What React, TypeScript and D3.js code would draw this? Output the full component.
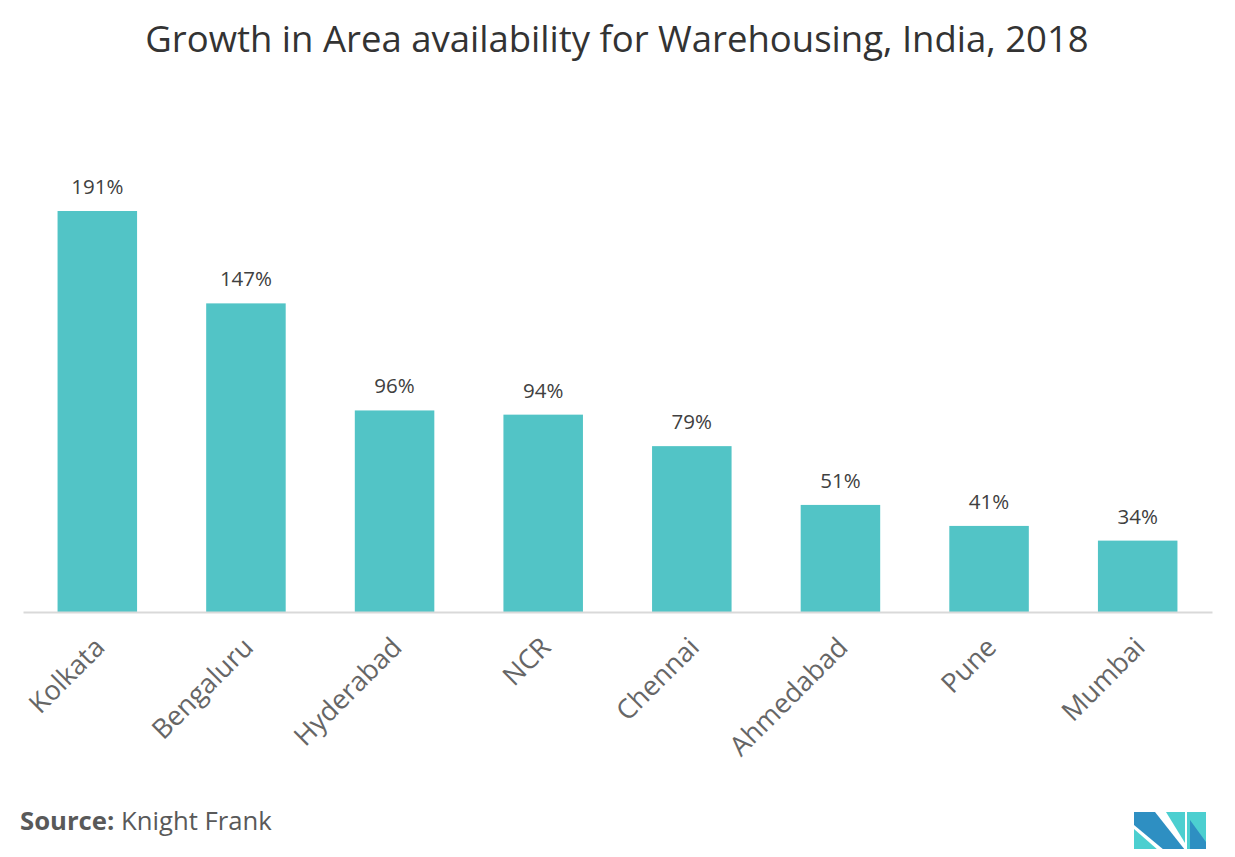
import { useEffect, useRef } from 'react';
import * as d3 from 'd3';

const cities = ['Kolkata', 'Bengaluru', 'Hyderabad', 'NCR', 'Chennai', 'Ahmedabad', 'Pune', 'Mumbai'];
const growth = [191, 147, 96, 94, 79, 51, 41, 34];

const W = 1235;
const H = 857;
const FONT = '"Open Sans", Lato, sans-serif';

export default function App() {
  const ref = useRef<SVGSVGElement | null>(null);
  useEffect(() => {
    const svg = d3.select(ref.current!);
    svg.selectAll('*').remove();

    const left = 23, right = 1212, base = 612;
    const x = d3.scaleBand<string>().domain(cities).range([left, right]).paddingInner(0.465).paddingOuter(0.2325);
    const y = d3.scaleLinear().domain([0, 191]).range([base, 211]);

    svg.append('text').attr('x', 617).attr('y', 52).attr('text-anchor', 'middle')
      .attr('font-family', FONT).attr('font-size', 36.5).attr('fill', '#333').text('Growth in Area availability for Warehousing, India, 2018');

    const data = cities.map((c, i) => ({ c, v: growth[i] }));
    svg.selectAll('rect.bar').data(data).enter().append('rect').attr('class', 'bar')
      .attr('x', (d) => x(d.c)!).attr('width', x.bandwidth())
      .attr('y', (d) => y(d.v)).attr('height', (d) => base - y(d.v))
      .attr('fill', '#52c4c6');

    svg.selectAll('text.val').data(data).enter().append('text').attr('class', 'val')
      .attr('x', (d) => x(d.c)! + x.bandwidth() / 2).attr('y', (d) => y(d.v) - 17)
      .attr('text-anchor', 'middle').attr('font-family', FONT).attr('font-size', 20.5).attr('fill', '#404040')
      .text((d) => `${d.v}%`);

    const ax = svg.append('g').attr('transform', `translate(0,${base})`)
      .call(d3.axisBottom(x).tickSize(0).tickSizeOuter(0).tickPadding(0));
    ax.select('.domain').attr('stroke', '#d9d9d9').attr('stroke-width', 2);
    ax.selectAll('.tick text')
      .attr('font-family', FONT).attr('font-size', 27).attr('fill', '#666')
      .attr('text-anchor', 'end').attr('dy', 0).attr('y', 0)
      .attr('transform', 'translate(9,37) rotate(-45)');

    const src = svg.append('text').attr('x', 20).attr('y', 830).attr('font-family', FONT).attr('font-size', 25.7).attr('fill', '#595959');
    src.append('tspan').attr('font-weight', 700).text('Source:');
    src.append('tspan').text(' Knight Frank');

    const logo = svg.append('g').attr('transform', 'translate(1134,812)');
    logo.append('polygon').attr('points', '0,0 21,0 51,38 30,38 0,13').attr('fill', '#2e8fc2');
    logo.append('polygon').attr('points', '0,17 0,38 24,38').attr('fill', '#4ccfd0');
    logo.append('polygon').attr('points', '32,0 51,0 51,31').attr('fill', '#4ccfd0');
    logo.append('polygon').attr('points', '53,0 72,0 72,38 53,38').attr('fill', '#4ccfd0');
    logo.append('polygon').attr('points', '56,8 72,30 72,38 56,38').attr('fill', '#2e8fc2');
  }, []);
  return <svg ref={ref} width={W} height={H} style={{ display: 'block', margin: -8 }} />;
}
